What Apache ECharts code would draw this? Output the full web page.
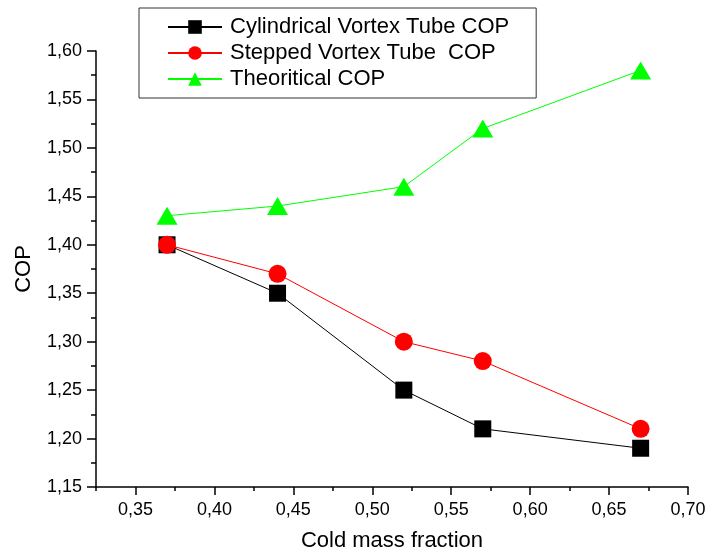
<!DOCTYPE html>
<html>
<head>
<meta charset="utf-8">
<script src="https://cdn.jsdelivr.net/npm/echarts@6/dist/echarts.min.js"></script>
<style>
  html, body { margin: 0; padding: 0; background: #fff; }
  #main { width: 707px; height: 555px; }
</style>
</head>
<body>
<div id="main"></div>
<script>
// 冷质量分数（x）
var coldMassFraction = [0.37, 0.44, 0.52, 0.57, 0.67];
// 三条曲线的COP
var cylindricalCOP = [1.40, 1.35, 1.25, 1.21, 1.19];
var steppedCOP     = [1.40, 1.37, 1.30, 1.28, 1.21];
var theoreticalCOP = [1.43, 1.44, 1.46, 1.52, 1.58];
// 坐标轴刻度
var xMajorTicks = [0.35, 0.40, 0.45, 0.50, 0.55, 0.60, 0.65, 0.70];
var xMinorTicks = [0.325, 0.375, 0.425, 0.475, 0.525, 0.575, 0.625, 0.675];

var FONT = 'Liberation Sans, Arial, sans-serif';

function pairs(xs, ys) {
    var out = [];
    for (var i = 0; i < xs.length; i++) {
        out.push([xs[i], ys[i]]);
    }
    return out;
}

function comma(v) {
    return v.toFixed(2).replace('.', ',');
}

var myChart = echarts.init(document.getElementById('main'));

myChart.setOption({
    animation: false,
    backgroundColor: '#fff',
    textStyle: { fontFamily: FONT },
    grid: { left: 96, right: 19, top: 51, bottom: 68, outerBoundsMode: 'none' },
    legend: {
        orient: 'vertical',
        left: 139,
        top: 8,
        padding: [8, 27, 8, 28],
        itemWidth: 54,
        itemHeight: 17,
        itemGap: 4,
        borderColor: '#333',
        borderWidth: 1,
        textStyle: { fontFamily: FONT, fontSize: 22, color: '#000', padding: [0, 0, 0, 3] },
        data: ['Cylindrical Vortex Tube COP', 'Stepped Vortex Tube  COP', 'Theoritical COP']
    },
    xAxis: [{
        type: 'value',
        min: 0.325,
        max: 0.70,
        name: 'Cold mass fraction',
        nameLocation: 'middle',
        nameGap: 43,
        nameTextStyle: { fontFamily: FONT, fontSize: 22, color: '#000' },
        axisLine: { onZero: false, lineStyle: { color: '#000', width: 1.5 } },
        axisTick: { show: true, inside: false, length: 8, customValues: xMajorTicks, lineStyle: { color: '#000', width: 1.5 } },
        axisLabel: {
            customValues: xMajorTicks,
            margin: 14,
            fontFamily: FONT, fontSize: 18, color: '#000',
            formatter: function (v) { return comma(v); }
        },
        splitLine: { show: false }
    }, {
        // 次刻度
        type: 'value',
        position: 'bottom',
        min: 0.325,
        max: 0.70,
        axisLine: { show: false },
        axisTick: { show: true, length: 4, customValues: xMinorTicks, lineStyle: { color: '#000', width: 1.5 } },
        axisLabel: { show: false },
        splitLine: { show: false }
    }],
    yAxis: {
        type: 'value',
        min: 1.15,
        max: 1.60,
        interval: 0.05,
        name: 'COP',
        nameLocation: 'middle',
        nameGap: 61,
        nameTextStyle: { fontFamily: FONT, fontSize: 22, color: '#000' },
        axisLine: { show: true, lineStyle: { color: '#000', width: 1.5 } },
        axisTick: { show: true, length: 9, lineStyle: { color: '#000', width: 1.5 } },
        minorTick: { show: true, splitNumber: 2, length: 5, lineStyle: { color: '#000', width: 1.5 } },
        axisLabel: {
            margin: 14,
            fontFamily: FONT, fontSize: 18, color: '#000',
            formatter: function (v) { return comma(v); }
        },
        splitLine: { show: false }
    },
    series: [{
        name: 'Cylindrical Vortex Tube COP',
        type: 'line',
        data: pairs(coldMassFraction, cylindricalCOP),
        symbol: 'rect',
        symbolSize: 17,
        color: '#000',
        lineStyle: { color: '#000', width: 1 },
        itemStyle: { color: '#000' },
        z: 2
    }, {
        name: 'Stepped Vortex Tube  COP',
        type: 'line',
        data: pairs(coldMassFraction, steppedCOP),
        symbol: 'circle',
        symbolSize: 18,
        color: '#ff0000',
        lineStyle: { color: '#ff0000', width: 1 },
        itemStyle: { color: '#ff0000' },
        z: 3
    }, {
        name: 'Theoritical COP',
        type: 'line',
        data: pairs(coldMassFraction, theoreticalCOP),
        symbol: 'triangle',
        symbolSize: [21, 18],
        color: '#00ff00',
        lineStyle: { color: '#00ff00', width: 1 },
        itemStyle: { color: '#00ff00' },
        z: 4
    }]
});
</script>
</body>
</html>
